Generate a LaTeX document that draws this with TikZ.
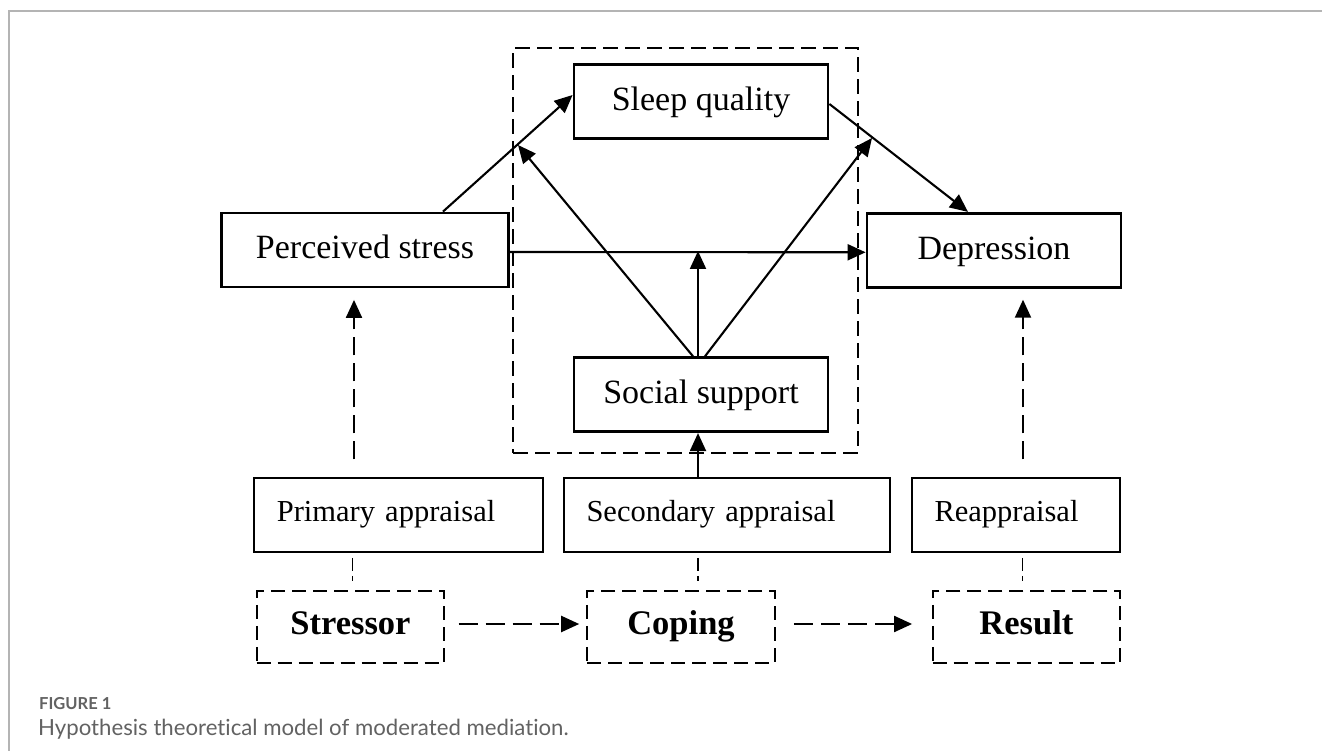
\documentclass[tikz,border=0pt]{standalone}
\usepackage{fontspec}
\setmainfont{Liberation Serif}
\newfontfamily\capfont[Ligatures=NoCommon]{Lato}
\usetikzlibrary{arrows.meta,calc}
\definecolor{framegray}{HTML}{B4B4B4}
\definecolor{capgray}{HTML}{626262}
\begin{document}
\begin{tikzpicture}[x=1pt,y=-1pt,
  box/.style={draw, line width=2.8pt, inner sep=0pt, minimum width=254pt, minimum height=74pt,
    font=\fontsize{34}{40}\selectfont, text height=25.5pt, text depth=7.5pt},
  abox/.style={draw, line width=2pt, inner xsep=22.5pt, inner ysep=0pt, minimum height=73.5pt,
    font=\fontsize{30.5}{36}\selectfont, text height=22pt, text depth=8.5pt, align=left},
  dbox/.style={draw, line width=2pt, dash pattern=on 14pt off 7pt, inner sep=0pt,
    minimum width=187.6pt, minimum height=72.6pt,
    font=\fontsize{34.5}{40}\selectfont\bfseries, text height=24.8pt, text depth=9pt},
  arr/.style={line width=2.1pt, -{Triangle[length=18pt,width=16pt]}},
  darr/.style={arr, dash pattern=on 18pt off 8pt},
  harr/.style={arr, dash pattern=on 19pt off 8pt},
  dotl/.style={line width=1.3pt, dash pattern=on 13pt off 5pt on 5pt off 30pt},
]
\useasboundingbox (0,0) rectangle (1322,751);
\fill[white] (0,0) rectangle (1322,751);
\draw[framegray, line width=2pt] (9,751) -- (9,11) -- (1322,11);

% moderator group
\node[draw, line width=1.6pt, dash pattern=on 15pt off 7pt, inner sep=0pt,
  minimum width=345pt, minimum height=404.7pt] (grp) at (685.5,250.35) {};

% main boxes
\node[box] (sq) at (701,101.5) {Sleep quality};
\node[box, minimum width=287pt] (ps) at (365,250) {Perceived stress};
\node[box] (dep) at (994,250.3) {Depression};
\node[box] (ss) at (701,394.7) {Social support};

% appraisal boxes
\node[abox, text width=244pt] (pa) at (398.8,515) {Primary appraisal};
\node[abox, text width=281pt] (sa) at (727,515) {Secondary appraisal};
\node[abox, text width=163pt] (ra) at (1016,515) {Reappraisal};

% stress process boxes
\node[dbox] (st) at (350.5,627) {Stressor};
\node[dbox] (co) at (681,627) {Coping};
\node[dbox] (re) at (1026.4,627) {Result};

% mediation paths
\draw[arr] ($(ps.north)+(78,0)$) -- ($(sq.west)+(0,-6.5)$);
\draw[arr] ($(sq.east)+(0,2.5)$) -- ($(dep.north)+(-26,0)$);
\draw[arr] ($(ps.east)+(0,2)$) -- ($(dep.west)+(0,2)$);

% moderation paths
\coordinate (m1) at (518,145);
\coordinate (m2) at (872,138);
\coordinate (m3) at (698,251);
\draw[arr] ($(ss.north)+(-8,0)$) -- (m1);
\draw[arr] ($(ss.north)+(4,0)$) -- (m2);
\draw[arr] ($(ss.north)+(-3,0)$) -- (m3);
\draw[arr] ($(sa.north)+(-29,0)$) -- ($(ss.south)+(-3,0)$);

% appraisal to outcome
\draw[darr] ($(pa.north)+(-44.8,-18)$) -- ($(ps.south)+(-11,11.5)$);
\draw[darr] ($(ra.north)+(7,-18)$) -- ($(dep.south)+(29,11)$);

% appraisal links
\draw[dotl] ($(pa.south)+(-46.5,5)$) -- ($(st.north)+(1.8,0)$);
\draw[dotl] ($(sa.south)+(-29,5)$) -- ($(co.north)+(17,0)$);
\draw[dotl] ($(ra.south)+(6.7,5)$) -- ($(re.north)+(-3.7,0)$);

% process arrows
\draw[harr] ($(st.east)+(13.4,-3)$) -- ($(co.west)+(-7,-3)$);
\draw[harr] ($(co.east)+(18,-3)$) -- ($(re.west)+(-19.5,-3)$);

% caption
\node[anchor=base west, inner sep=0pt, text=capgray,
  font=\capfont\fontsize{16.5}{20}\selectfont\bfseries] (fig) at (39,709) {FIGURE 1};
\node[anchor=base west, inner sep=0pt, text=capgray,
  font=\capfont\fontsize{22.2}{27}\selectfont] (capt) at (38,735) {Hypothesis theoretical model of moderated mediation.};
\end{tikzpicture}
\end{document}
